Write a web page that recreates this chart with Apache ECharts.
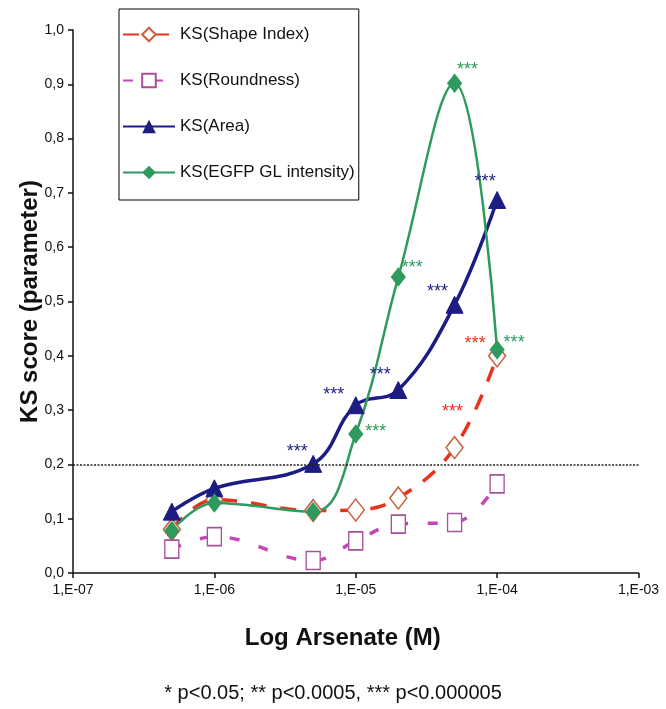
<!DOCTYPE html>
<html><head><meta charset="utf-8">
<script src="https://cdn.jsdelivr.net/npm/echarts@6/dist/echarts.min.js"></script>
<style>html,body{margin:0;padding:0;background:#fff}#c{width:666px;height:709px}</style>
</head><body><div id="c"></div>
<script>
// ---- data ----
const concentrations = [5e-7, 1e-6, 5e-6, 1e-5, 2e-5, 5e-5, 1e-4];
const shapeIndex = [0.080, 0.135, 0.115, 0.116, 0.138, 0.231, 0.400];
const roundness  = [0.044, 0.067, 0.023, 0.059, 0.090, 0.093, 0.164];
const area       = [0.113, 0.156, 0.201, 0.309, 0.337, 0.494, 0.687];
const egfp       = [0.078, 0.129, 0.113, 0.256, 0.545, 0.902, 0.411];
const shapeStars = ['', '', '', '', '', '***', '***'];
const roundStars = ['', '', '', '', '', '', ''];
const areaStars  = ['', '', '***', '***', '***', '***', '***'];
const egfpStars  = ['', '', '', '***', '***', '***', '***'];
const seriesNames = ['KS(Shape Index)', 'KS(Roundness)', 'KS(Area)', 'KS(EGFP GL intensity)'];
const xTickLabels = ['1,E-07', '1,E-06', '1,E-05', '1,E-04', '1,E-03'];
const yTickLabels = ['0,0','0,1','0,2','0,3','0,4','0,5','0,6','0,7','0,8','0,9','1,0'];
const threshold = 0.195;
const xTitle = 'Log Arsenate (M)';
const yTitle = 'KS score (parameter)';
const footnote = '* p<0.05; ** p<0.0005, *** p<0.000005';

// ---- styling (label placement relative to markers) ----
const starOffsets = {
  shape: [null, null, null, null, null, [-2, -36], [-22, -12]],
  round: [null, null, null, null, null, null, null],
  area:  [null, null, [-16, -12], [-22, -10], [-18, -15], [-17, -13], [-12, -18]],
  egfp:  [null, null, null, [20, -2], [14, -9], [13, -13], [17, -7]]
};
const FONT = "'Liberation Sans Narrow', 'Liberation Sans', Arial, sans-serif";

function build(vals, stars, offs, color) {
  return concentrations.map((c, i) => {
    const item = { value: [c, vals[i]] };
    if (stars[i]) {
      item.label = { show: true, formatter: stars[i], position: 'inside', offset: offs[i],
        color: color, fontSize: 18, fontFamily: 'Liberation Sans, Arial, sans-serif' };
    }
    return item;
  });
}

const C = { red: '#e8321e', redMk: '#c8603a', mag: '#c545b5', magMk: '#a8509a', blue: '#1c1c84', green: '#2e9a5e' };

const chart = echarts.init(document.getElementById('c'), null, { renderer: 'canvas' });
chart.setOption({
  animation: false,
  backgroundColor: '#fff',
  grid: { left: 73, right: 27.5, top: 30, bottom: 136 },
  legend: {
    orient: 'vertical', left: 119, top: 9,
    padding: [15, 4, 17, 3],
    borderColor: '#000', borderWidth: 1,
    itemWidth: 52, itemHeight: 17, itemGap: 25,
    textStyle: { fontFamily: FONT, fontSize: 17, lineHeight: 21, color: '#111' },
    data: seriesNames
  },
  title: {
    text: footnote, left: 'center', top: 678,
    textStyle: { fontFamily: 'Liberation Sans, Arial, sans-serif', fontSize: 20, fontWeight: 'normal', color: '#111' }
  },
  xAxis: {
    type: 'log', logBase: 10, min: 1e-7, max: 1e-3,
    name: xTitle, nameLocation: 'middle', nameGap: 53, nameMoveOverlap: false,
    nameTextStyle: { fontFamily: 'Liberation Sans, Arial, sans-serif', fontSize: 24, fontWeight: 'bold', color: '#111', padding: [0, 26, 0, 0] },
    axisLine: { lineStyle: { color: '#111', width: 1.5 } },
    axisTick: { show: true, inside: false, length: 5, lineStyle: { color: '#111', width: 1.5 } },
    minorTick: { show: false },
    splitLine: { show: false },
    axisLabel: {
      margin: 10, fontFamily: FONT, fontSize: 14, color: '#111',
      formatter: v => xTickLabels[Math.round(Math.log10(v)) + 7]
    }
  },
  yAxis: {
    type: 'value', min: 0, max: 1, interval: 0.1,
    name: yTitle, nameLocation: 'middle', nameGap: 31, nameMoveOverlap: false,
    nameTextStyle: { fontFamily: 'Liberation Sans, Arial, sans-serif', fontSize: 24, fontWeight: 'bold', color: '#111' },
    axisLine: { show: true, lineStyle: { color: '#111', width: 1.5 } },
    axisTick: { show: true, inside: false, length: 5, lineStyle: { color: '#111', width: 1.5 } },
    splitLine: { show: false },
    axisLabel: {
      margin: 9, fontFamily: FONT, fontSize: 14, color: '#111',
      formatter: v => yTickLabels[Math.round(v * 10)]
    }
  },
  series: [
    {
      name: seriesNames[0], type: 'line', smooth: 0.4,
      data: build(shapeIndex, shapeStars, starOffsets.shape, C.red),
      symbol: 'diamond', symbolSize: [17, 22], showAllSymbol: true,
      lineStyle: { color: C.red, width: 3.5, type: [16, 14] },
      itemStyle: { color: '#fff', borderColor: C.redMk, borderWidth: 1.5 },
      markLine: {
        silent: true, symbol: 'none', label: { show: false },
        lineStyle: { color: '#222', type: [2, 1.5], width: 1.5 },
        data: [{ yAxis: threshold }]
      }
    },
    {
      name: seriesNames[1], type: 'line', smooth: 0.4,
      data: build(roundness, roundStars, starOffsets.round, C.mag),
      symbol: 'rect', symbolSize: [14, 18],
      lineStyle: { color: C.mag, width: 3.5, type: [10, 20] },
      itemStyle: { color: '#fff', borderColor: C.magMk, borderWidth: 1.5 }
    },
    {
      name: seriesNames[2], type: 'line', smooth: 0.4,
      data: build(area, areaStars, starOffsets.area, C.blue),
      symbol: 'triangle', symbolSize: [17, 17],
      lineStyle: { color: C.blue, width: 3.5 },
      itemStyle: { color: C.blue, borderColor: C.blue }
    },
    {
      name: seriesNames[3], type: 'line', smooth: 0.4,
      data: build(egfp, egfpStars, starOffsets.egfp, C.green),
      symbol: 'diamond', symbolSize: [14, 18],
      lineStyle: { color: C.green, width: 2.5 },
      itemStyle: { color: C.green, borderColor: C.green }
    }
  ]
});
</script></body></html>
